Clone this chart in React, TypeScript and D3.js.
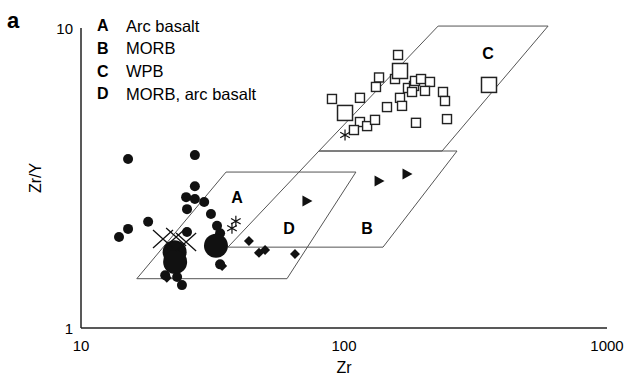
import React from "react";
import * as d3 from "d3";

const W = 631;
const H = 378;

// field outlines as [Zr, Zr/Y]
const fieldA = [[16.3, 1.46], [60.7, 1.46], [111, 3.31], [35.6, 3.31]];
const fieldB = [[36.2, 1.86], [140.7, 1.86], [269, 3.89], [80.3, 3.89]];
const fieldC = [[80.3, 3.89], [236, 3.89], [597, 10.15], [228, 10.15]];

const fieldLabels = [
  { t: "A", zr: 39.2, zy: 2.73 },
  { t: "D", zr: 61.8, zy: 2.15 },
  { t: "B", zr: 122.4, zy: 2.15 },
  { t: "C", zr: 352.8, zy: 8.25 },
];

const legend = [
  ["A", "Arc basalt"],
  ["B", "MORB"],
  ["C", "WPB"],
  ["D", "MORB, arc basalt"],
];

const xTicks = [10, 100, 1000];
const yTicks = [1, 10];

// samples [Zr, Zr/Y]
const circles = [
  [15.1, 3.66], [27.1, 3.77], [27.1, 2.97], [25.1, 2.73], [27.1, 2.69],
  [29.4, 2.63], [25.3, 2.49], [31.2, 2.4], [18.0, 2.26], [15.1, 2.14],
  [13.95, 2.01], [25.3, 2.09], [32.9, 2.19], [33.8, 2.07], [20.9, 1.5],
  [23.2, 1.48], [24.2, 1.39], [33.8, 1.63],
];
const bigCircles = [[22.7, 1.79], [22.8, 1.66], [32.6, 1.88]];
const crosses = [[20.5, 1.98], [23.0, 2.01], [25.1, 1.935]];
const stars = [[38.8, 2.27], [37.5, 2.15], [100.9, 4.4]];
const diamonds = [
  [43.5, 1.95], [47.5, 1.78], [50.1, 1.82], [65.1, 1.765], [21.2, 1.47], [34.4, 1.61],
];
const triangles = [[72.3, 2.65], [135.9, 3.09], [173.6, 3.26]];
const squares = [
  [160.5, 8.13], [156.3, 6.76], [135.9, 6.84], [132.3, 6.36], [90.0, 5.8],
  [115.0, 5.85], [115.0, 4.86], [109.1, 4.57], [122.4, 4.71], [131.2, 4.94],
  [145.7, 5.45], [163.3, 5.85], [166.2, 5.5], [175.1, 6.31], [184.6, 6.41],
  [181.4, 6.12], [186.2, 6.66], [196.3, 6.76], [212.3, 6.61], [203.2, 6.17],
  [237.9, 6.12], [242.1, 5.71], [187.8, 4.83], [246.4, 4.97],
];
const bigSquares = [[163.3, 7.19], [100.9, 5.21], [355.9, 6.46]];

const font = "'Liberation Sans', Arial, sans-serif";

export default function App() {
  const x = d3.scaleLog().domain([10, 1000]).range([81, 607]);
  const y = d3.scaleLog().domain([1, 10]).range([328, 28]);

  const poly = (pts: number[][]) =>
    pts.map((p) => `${x(p[0])},${y(p[1])}`).join(" ");

  const tr = (p: number[]) => `translate(${x(p[0])},${y(p[1])})`;

  return (
    <div style={{ position: "absolute", left: 0, top: 0 }}>
      <svg width={W} height={H} style={{ display: "block", background: "#fff" }}>
        <text x={7} y={28} fontFamily={font} fontWeight="bold" fontSize={22}>a</text>

        {/* fields */}
        {[fieldA, fieldB, fieldC].map((f, i) => (
          <polygon key={i} points={poly(f)} fill="none" stroke="#555" strokeWidth={1} />
        ))}
        {fieldLabels.map((l) => (
          <text key={l.t} x={x(l.zr)} y={y(l.zy)} fontFamily={font} fontWeight="bold"
            fontSize={16} textAnchor="middle" dominantBaseline="central">{l.t}</text>
        ))}

        {/* axes */}
        <line x1={x(10)} x2={x(10)} y1={y(1)} y2={y(10)} stroke="#222" strokeWidth={1.5} />
        <line x1={x(10)} x2={x(1000)} y1={y(1)} y2={y(1)} stroke="#222" strokeWidth={1.5} />
        {xTicks.map((t) => (
          <text key={t} x={x(t)} y={351} fontFamily={font} fontSize={15} textAnchor="middle">{t}</text>
        ))}
        {yTicks.map((t) => (
          <text key={t} x={73} y={y(t)} fontFamily={font} fontSize={15} textAnchor="end"
            dominantBaseline="central">{t}</text>
        ))}
        <text x={x(100)} y={373} fontFamily={font} fontSize={16} textAnchor="middle">Zr</text>
        <text transform="translate(41,178) rotate(-90)" fontFamily={font} fontSize={16}
          textAnchor="middle">Zr/Y</text>

        {/* legend */}
        {legend.map((l, i) => (
          <g key={l[0]} transform={`translate(97,${25.5 + i * 22.8})`}>
            <text x={0} y={0} fontFamily={font} fontWeight="bold" fontSize={16}
              dominantBaseline="central">{l[0]}</text>
            <text x={29} y={0} fontFamily={font} fontSize={16.5}
              dominantBaseline="central">{l[1]}</text>
          </g>
        ))}

        {/* samples */}
        {squares.map((p, i) => (
          <rect key={"s" + i} transform={tr(p)} x={-4.5} y={-4.5} width={9} height={9}
            fill="#fff" stroke="#222" strokeWidth={1.4} />
        ))}
        {bigSquares.map((p, i) => (
          <rect key={"bs" + i} transform={tr(p)} x={-7.5} y={-7.5} width={15} height={15}
            fill="#fff" stroke="#222" strokeWidth={1.5} />
        ))}
        {circles.map((p, i) => (
          <circle key={"c" + i} transform={tr(p)} r={5} fill="#111" />
        ))}
        {bigCircles.map((p, i) => (
          <circle key={"bc" + i} transform={tr(p)} r={12} fill="#111" />
        ))}
        {diamonds.map((p, i) => (
          <path key={"d" + i} transform={tr(p)} d="M0,-5L5,0L0,5L-5,0Z" fill="#111" />
        ))}
        {triangles.map((p, i) => (
          <path key={"t" + i} transform={tr(p)} d="M-4.5,-5.5L5.5,0L-4.5,5.5Z" fill="#111" />
        ))}
        {crosses.map((p, i) => (
          <path key={"x" + i} transform={tr(p)} d="M-10,-9L10,9M-10,9L10,-9"
            stroke="#111" strokeWidth={1.3} fill="none" />
        ))}
        {stars.map((p, i) => (
          <path key={"a" + i} transform={tr(p)} d="M0,-5.5L0,5.5M-4.8,-2.75L4.8,2.75M-4.8,2.75L4.8,-2.75"
            stroke="#111" strokeWidth={1.2} fill="none" />
        ))}
      </svg>
    </div>
  );
}
